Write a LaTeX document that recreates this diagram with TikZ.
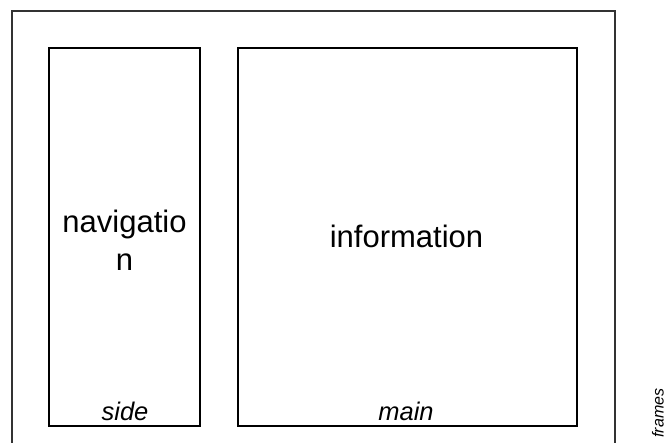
\documentclass[tikz,border=0pt]{standalone}
\usepackage{fontspec}
\setmainfont{Liberation Sans}
\begin{document}
\begin{tikzpicture}[x=1pt,y=-1pt,
  framebox/.style={draw=black!80, line width=2pt, inner sep=0pt, outer sep=0pt, rectangle},
  panebox/.style={draw=black, line width=2pt, inner sep=0pt, outer sep=0pt, rectangle},
  bigtext/.style={font=\fontsize{31}{38}\selectfont, inner sep=0pt, align=center},
  smalllabel/.style={font=\fontsize{25.5}{30}\selectfont\itshape, inner sep=0pt, anchor=base},
  tinylabel/.style={font=\fontsize{16}{19}\selectfont\itshape, inner sep=0pt, rotate=90}
]
\useasboundingbox (0,0) rectangle (667,443);
\node[framebox, minimum width=603pt, minimum height=448.5pt] (outer) at (313,235.75) {};
\node[panebox, minimum width=151.5pt, minimum height=377.5pt] (side) at (124.25,237.25) {};
\node[panebox, minimum width=339pt, minimum height=377.5pt] (main) at (407,237.25) {};
\node[bigtext] (nav) at (124.5,240) {navigatio\\n};
\node[bigtext, anchor=base] (info) at (406.5,248) {information};
\node[smalllabel] (sidelabel) at (125,420.5) {side};
\node[smalllabel] (mainlabel) at (406,420.5) {main};
\node[tinylabel] (frameslabel) at (658,413) {frames};
\end{tikzpicture}
\end{document}
